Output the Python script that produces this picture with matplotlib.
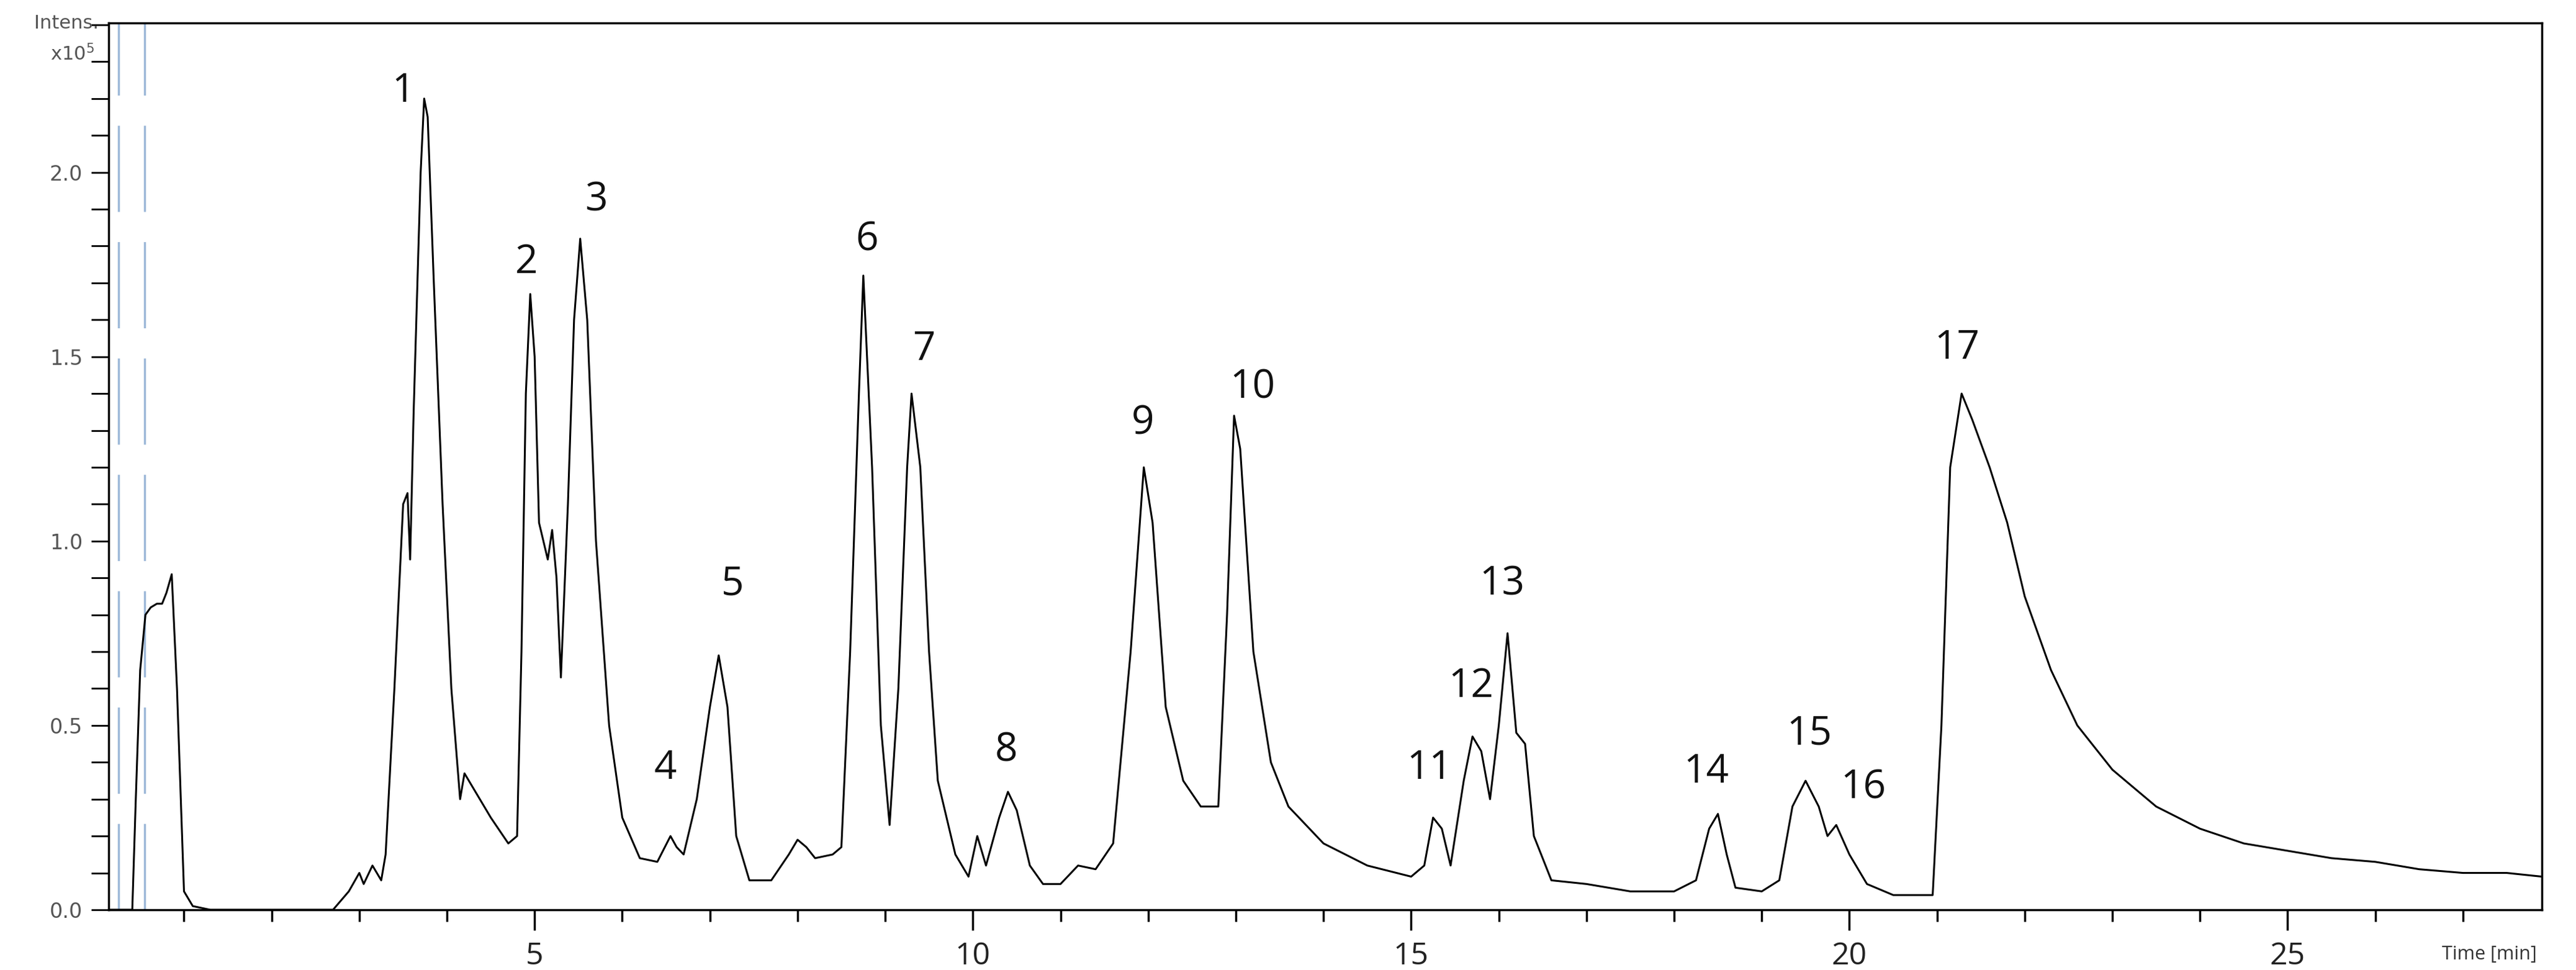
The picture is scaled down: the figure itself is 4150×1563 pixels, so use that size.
import matplotlib
matplotlib.use("Agg")
import matplotlib.pyplot as plt
from matplotlib.ticker import MultipleLocator

time = [0.14,0.3,0.41,0.45,0.5,0.56,0.62,0.69,0.75,0.8,0.86,0.92,1.0,1.1,1.3,1.6,2.0,2.4,2.7,2.88,3.0,3.05,3.15,3.25,3.3,3.4,3.5,3.55,3.58,3.62,3.7,3.74,3.78,3.85,3.95,4.05,4.15,4.2,4.3,4.5,4.7,4.8,4.85,4.9,4.95,5.0,5.05,5.15,5.2,5.25,5.3,5.38,5.45,5.52,5.6,5.7,5.85,6.0,6.2,6.4,6.55,6.62,6.7,6.85,7.0,7.1,7.2,7.3,7.45,7.7,7.9,8.0,8.1,8.2,8.4,8.5,8.6,8.7,8.75,8.85,8.95,9.05,9.15,9.25,9.3,9.4,9.5,9.6,9.8,9.95,10.05,10.15,10.3,10.4,10.5,10.65,10.8,11.0,11.2,11.4,11.6,11.8,11.95,12.05,12.2,12.4,12.6,12.8,12.9,12.98,13.05,13.2,13.4,13.6,14.0,14.5,15.0,15.15,15.25,15.35,15.45,15.6,15.7,15.8,15.9,16.0,16.1,16.2,16.3,16.4,16.6,17.0,17.5,18.0,18.25,18.4,18.5,18.6,18.7,19.0,19.2,19.35,19.5,19.65,19.75,19.85,20.0,20.2,20.5,20.95,21.05,21.15,21.28,21.4,21.6,21.8,22.0,22.3,22.6,23.0,23.5,24.0,24.5,25.0,25.5,26.0,26.5,27.0,27.5,27.9]
intensity = [0.0,0.0,0.0,0.3,0.65,0.8,0.82,0.83,0.83,0.86,0.91,0.6,0.05,0.01,0.0,0.0,0.0,0.0,0.0,0.05,0.1,0.07,0.12,0.08,0.15,0.6,1.1,1.13,0.95,1.35,2.0,2.2,2.15,1.7,1.1,0.6,0.3,0.37,0.33,0.25,0.18,0.2,0.7,1.4,1.67,1.5,1.05,0.95,1.03,0.9,0.63,1.1,1.6,1.82,1.6,1.0,0.5,0.25,0.14,0.13,0.2,0.17,0.15,0.3,0.55,0.69,0.55,0.2,0.08,0.08,0.15,0.19,0.17,0.14,0.15,0.17,0.7,1.4,1.72,1.2,0.5,0.23,0.6,1.2,1.4,1.2,0.7,0.35,0.15,0.09,0.2,0.12,0.25,0.32,0.27,0.12,0.07,0.07,0.12,0.11,0.18,0.7,1.2,1.05,0.55,0.35,0.28,0.28,0.8,1.34,1.25,0.7,0.4,0.28,0.18,0.12,0.09,0.12,0.25,0.22,0.12,0.35,0.47,0.43,0.3,0.5,0.75,0.48,0.45,0.2,0.08,0.07,0.05,0.05,0.08,0.22,0.26,0.15,0.06,0.05,0.08,0.28,0.35,0.28,0.2,0.23,0.15,0.07,0.04,0.04,0.5,1.2,1.4,1.33,1.2,1.05,0.85,0.65,0.5,0.38,0.28,0.22,0.18,0.16,0.14,0.13,0.11,0.1,0.1,0.09]

peak_labels = [str(i) for i in range(1, 18)]
label_t = [3.5,4.91,5.70,6.49,7.26,8.79,9.44,10.38,11.94,13.19,15.21,15.68,16.04,18.37,19.54,20.16,21.23]
label_i = [2.22,1.755,1.924,0.383,0.882,1.817,1.519,0.432,1.318,1.416,0.383,0.606,0.882,0.374,0.477,0.33,1.523]

marker_lines = [0.25, 0.55]
xticks = [5, 10, 15, 20, 25]
yticks = [0.0, 0.5, 1.0, 1.5, 2.0]

fig = plt.figure(figsize=(41.5, 15.63), dpi=100)
ax = fig.add_axes([175/4150, 1-1466/1563, (4095-175)/4150, (1466-37)/1563])
for m in marker_lines:
    ax.axvline(m, color="#9db8d8", lw=2.5, dashes=(40, 14))
ax.plot(time, intensity, color="black", lw=2.2)
for s, t, v in zip(peak_labels, label_t, label_i):
    ax.text(t, v, s, ha="center", va="center", fontsize=46, family="Open Sans", color="#111111")

ax.set_xlim(0.14, 27.9)
ax.set_ylim(0, 2.405)
ax.set_xticks(xticks)
ax.set_xticklabels([str(x) for x in xticks], fontsize=36, family="Open Sans", color="#222222")
ax.xaxis.set_minor_locator(MultipleLocator(1))
ax.set_yticks(yticks)
ax.set_yticklabels([f"{y:.1f}" for y in yticks], fontsize=24, color="#555555")
ax.yaxis.set_minor_locator(MultipleLocator(0.1))
ax.tick_params(axis="x", which="major", length=24, width=2.5, direction="out", pad=12)
ax.tick_params(axis="x", which="minor", length=14, width=2.5, direction="out")
ax.tick_params(axis="y", which="both", length=20, width=2, direction="out", pad=10)
for sp in ax.spines.values():
    sp.set_linewidth(2.5)
ax.text(-0.004, 1.0, "Intens.", transform=ax.transAxes, ha="right", va="center", fontsize=22, color="#555555")
ax.text(-0.006, 0.965, "x10$^5$", transform=ax.transAxes, ha="right", va="center", fontsize=22, color="#555555")
ax.text(0.998, -0.05, "Time [min]", transform=ax.transAxes, ha="right", va="center", fontsize=22, family="Open Sans", color="#333333")
fig.savefig("out.png", dpi=100)
